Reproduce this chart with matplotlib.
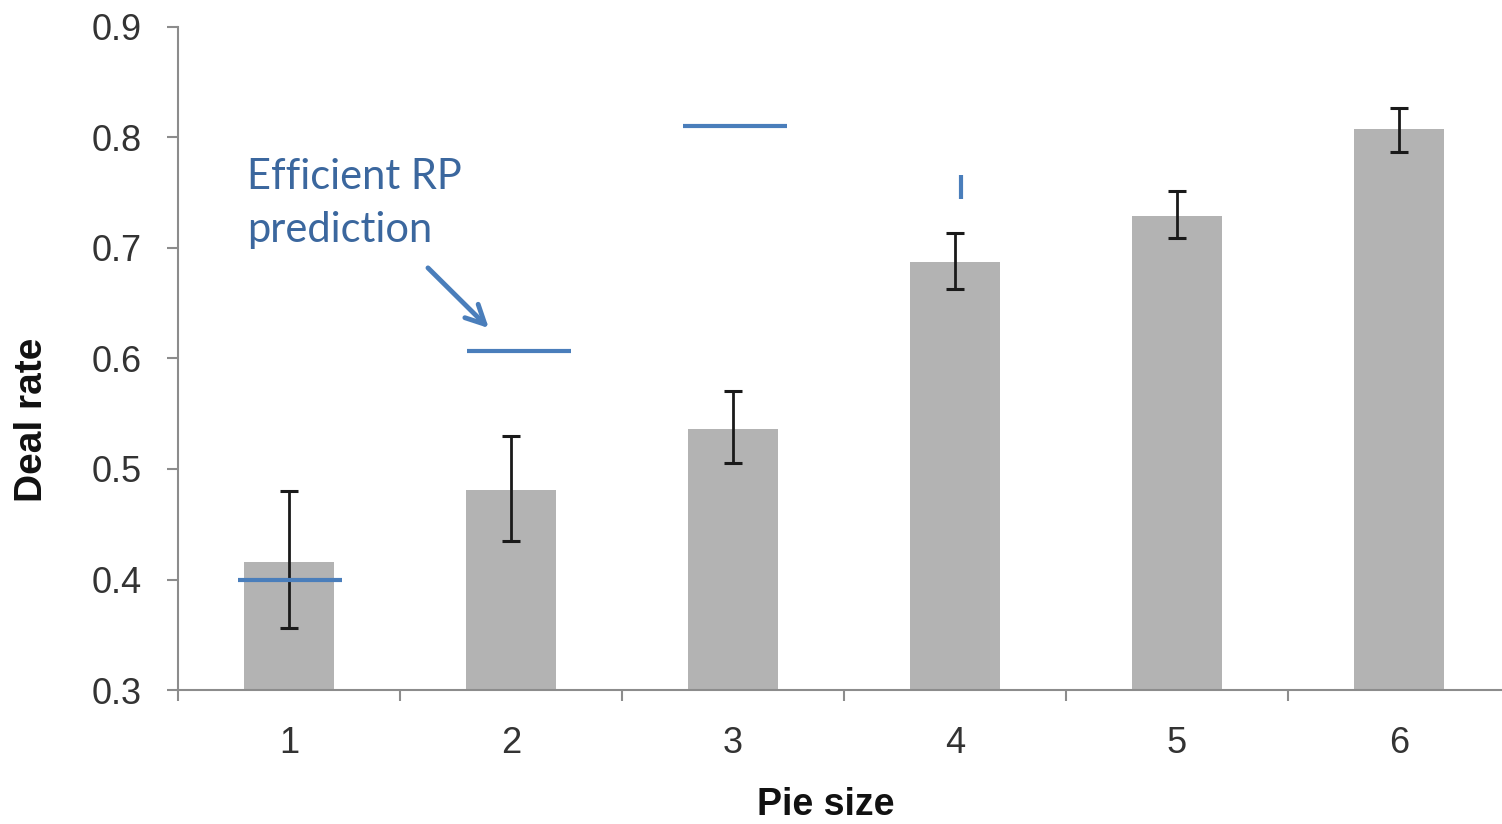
import numpy as np
import matplotlib
matplotlib.use("Agg")
import matplotlib.pyplot as plt

# data
pie_size = [1, 2, 3, 4, 5, 6]
deal_rate = [0.416, 0.481, 0.536, 0.687, 0.729, 0.808]
err_low = [0.356, 0.435, 0.505, 0.663, 0.709, 0.787]
err_high = [0.480, 0.530, 0.571, 0.714, 0.752, 0.827]

# efficient RP prediction (horizontal marks for 1-3, a short stub for 4)
pred_pos = [1.005, 2.036, 3.009]
pred_rate = [0.400, 0.607, 0.810]
stub_pos = 4.027
stub_rate = (0.744, 0.766)

bar_col = '#b3b3b3'
blue = '#4a7ebb'
txt_blue = '#3b679e'
txt_col = '#333333'

x = np.array(pie_size, dtype=float)
y = np.array(deal_rate)
yerr = [y - np.array(err_low), np.array(err_high) - y]

fig = plt.figure(figsize=(15.02, 8.24), dpi=100)
ax = fig.add_axes([178/1502, 1 - 690/824, 1332/1502, 663/824])

ax.bar(x, y - 0.3, bottom=0.3, width=0.405, color=bar_col, zorder=2)
ax.errorbar(x, y, yerr=yerr, fmt='none', ecolor='#1a1a1a', elinewidth=2,
            capsize=6.5, capthick=2.2, zorder=3)

for px, py in zip(pred_pos, pred_rate):
    ax.plot([px - 0.234, px + 0.234], [py, py], color=blue, lw=3, zorder=4,
            solid_capstyle='butt')
ax.plot([stub_pos, stub_pos], stub_rate, color=blue, lw=3,
        zorder=4, solid_capstyle='butt')

ax.text(0.811, 0.705, 'Efficient RP\nprediction', color=txt_blue, fontsize=30,
        family='Lato', ha='left', va='baseline', linespacing=1.5)
ax.annotate('', xy=(1.90, 0.6275), xytext=(1.626, 0.682),
            arrowprops=dict(arrowstyle='->', color=blue, lw=3.5,
                            mutation_scale=34, shrinkA=0, shrinkB=0))

ax.set_xlim(0.5, 6.5)
ax.set_ylim(0.3, 0.9)
ax.set_yticks(np.arange(0.3, 0.91, 0.1))
ax.set_yticklabels(['%.1f' % v for v in np.arange(0.3, 0.91, 0.1)])
ax.set_xticks(x)
ax.set_xticklabels([str(p) for p in pie_size])
ax.set_xticks(np.arange(0.5, 6.6, 1.0), minor=True)

for s in ['top', 'right']:
    ax.spines[s].set_visible(False)
for s in ['left', 'bottom']:
    ax.spines[s].set_color('#8c8c8c')
    ax.spines[s].set_linewidth(1.5)

ax.tick_params(axis='y', direction='out', length=8, width=1.5,
               color='#8c8c8c', pad=18, labelsize=26, labelcolor=txt_col)
ax.tick_params(axis='x', which='major', length=0, pad=26, labelsize=26,
               labelcolor=txt_col)
ax.tick_params(axis='x', which='minor', direction='out', length=8,
               width=1.5, color='#8c8c8c')
for lab in ax.get_xticklabels() + ax.get_yticklabels():
    lab.set_family('Liberation Sans')

ax.set_ylabel('Deal rate', fontsize=28, fontweight='bold',
              family='Liberation Sans', color='#111111')
ax.yaxis.label.set_va('center')
ax.yaxis.set_label_coords(-0.1096, 0.407)
ax.set_xlabel('Pie size', fontsize=27, fontweight='bold',
              family='Liberation Sans', color='#111111')
ax.xaxis.label.set_va('center')
ax.xaxis.set_label_coords(0.486, -0.173)

plt.savefig('out.png', dpi=100)
